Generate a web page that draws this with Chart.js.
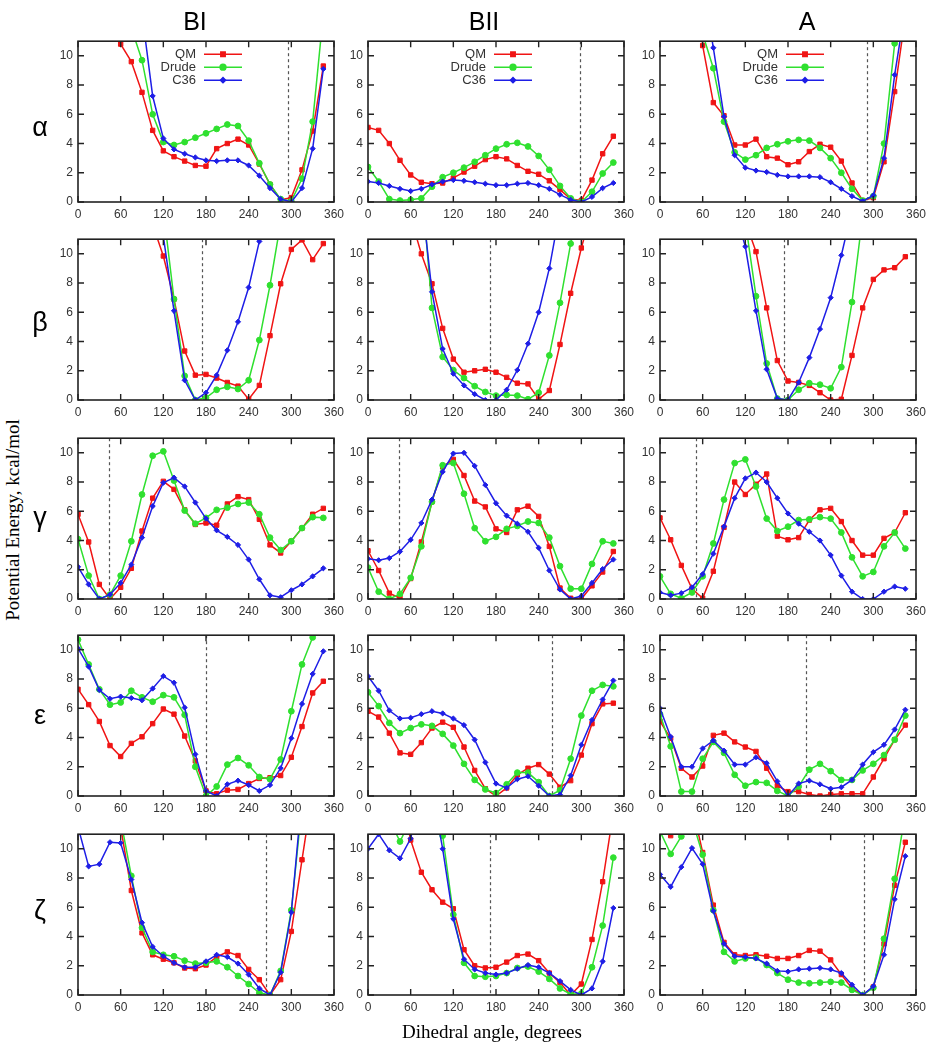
<!DOCTYPE html>
<html>
<head>
<meta charset="utf-8">
<script src="https://cdn.jsdelivr.net/npm/chart.js@4.4.1/dist/chart.umd.min.js"></script>
<style>
  body { margin: 0; background: #fff; width: 926px; height: 1050px; position: relative; overflow: hidden; }
  canvas { position: absolute; }
  .txt { position: absolute; color: #000; white-space: nowrap; }
  .col { font: 25px "Liberation Sans", Arial, sans-serif; top: 7px; transform: translateX(-50%); }
  .row { font: 27px "Liberation Sans", Arial, sans-serif; transform: translate(-50%, -50%); }
  .axis { font: 19px "Liberation Serif", "Times New Roman", serif; }
</style>
</head>
<body>
<script>
// angles sampled every 15 degrees
const angles = [0, 15, 30, 45, 60, 75, 90, 105, 120, 135, 150, 165, 180, 195, 210, 225, 240, 255, 270, 285, 300, 315, 330, 345];
const xTicks = [0, 60, 120, 180, 240, 300, 360];
const yTicks = [0, 2, 4, 6, 8, 10];
const seriesNames = ['QM', 'Drude', 'C36'];
const conformations = ['BI', 'BII', 'A'];
const dihedrals = ['α', 'β', 'γ', 'ε', 'ζ'];

// alpha
const qmAlphaBI    = [20, 19, 17, 13.5, 10.8, 9.6, 7.5, 4.9, 3.5, 3.1, 2.8, 2.5, 2.45, 3.65, 4.0, 4.3, 3.9, 2.6, 1.2, 0.15, 0.3, 2.2, 4.85, 9.3];
const drudeAlphaBI = [20, 19, 17, 15, 14, 11.9, 9.7, 6.0, 4.1, 3.9, 4.1, 4.4, 4.7, 5.0, 5.3, 5.2, 4.2, 2.65, 1.2, 0.2, 0.05, 1.6, 5.5, 12.9];
const c36AlphaBI   = [20, 19, 18, 17, 15, 14, 12.9, 7.25, 4.35, 3.6, 3.3, 3.05, 2.85, 2.8, 2.85, 2.85, 2.5, 1.8, 0.95, 0.2, 0, 0.95, 3.65, 9.1];
const qmAlphaBII    = [5.1, 4.9, 4.0, 2.85, 1.85, 1.35, 1.25, 1.3, 1.65, 2.05, 2.45, 2.9, 3.1, 2.95, 2.5, 2.1, 1.9, 1.45, 0.85, 0.2, 0.1, 1.5, 3.3, 4.5];
const drudeAlphaBII = [2.4, 1.4, 0.2, 0.1, 0.15, 0.25, 1.05, 1.7, 2.0, 2.35, 2.75, 3.2, 3.65, 3.95, 4.05, 3.8, 3.15, 2.2, 1.1, 0.25, 0, 0.7, 1.95, 2.7];
const c36AlphaBII   = [1.4, 1.3, 1.1, 0.9, 0.75, 0.9, 1.2, 1.4, 1.5, 1.45, 1.35, 1.25, 1.15, 1.15, 1.25, 1.3, 1.15, 0.9, 0.5, 0.15, 0, 0.35, 0.95, 1.3];
const qmAlphaA    = [20, 19, 18, 22, 10.7, 6.8, 5.9, 3.9, 3.9, 4.3, 3.1, 3.0, 2.55, 2.75, 3.45, 3.95, 3.75, 2.8, 1.3, 0.1, 0.3, 2.75, 7.55, 12.7];
const drudeAlphaA = [20, 19, 18, 16, 11.5, 9.15, 5.5, 3.4, 2.9, 3.2, 3.7, 3.95, 4.15, 4.25, 4.2, 3.7, 3.0, 2.0, 0.9, 0.1, 0.4, 4.0, 10.85, 16];
const c36AlphaA   = [20, 19, 18, 17, 15, 10.55, 5.85, 3.2, 2.35, 2.15, 2.05, 1.85, 1.75, 1.75, 1.75, 1.7, 1.35, 0.9, 0.4, 0.05, 0.45, 3.0, 8.7, 13.3];

// beta
const qmBetaBI    = [null, null, null, null, null, null, null, 12.0, 9.85, 6.9, 3.35, 1.7, 1.75, 1.5, 1.2, 0.95, 0.05, 1.0, 4.4, 7.95, 10.3, 10.95, 9.6, 10.7];
const drudeBetaBI = [null, null, null, null, null, null, null, null, 13.0, 6.9, 1.65, 0, 0.15, 0.7, 0.9, 0.75, 1.35, 4.1, 7.85, 12.15, null, null, null, null];
const c36BetaBI   = [null, null, null, null, null, null, null, null, 11.2, 6.1, 1.35, 0, 0.5, 1.7, 3.4, 5.35, 7.7, 10.85, 14, null, null, null, null, null];
const qmBetaBII    = [null, null, null, null, 12.5, 10.0, 7.95, 4.9, 2.8, 1.9, 2.0, 2.1, 1.9, 1.55, 1.15, 1.1, 0.05, 0.65, 3.8, 7.3, 10.4, 13, null, null];
const drudeBetaBII = [null, null, null, null, 17, 15, 6.3, 2.95, 2.05, 1.5, 0.95, 0.55, 0.3, 0.35, 0.3, 0.05, 0.5, 3.05, 6.65, 10.7, 14, null, null, null];
const c36BetaBII   = [null, null, null, null, 18, 14, 7.4, 3.5, 1.8, 1.0, 0.4, 0, 0, 0.7, 2.05, 3.85, 6.0, 9.0, 13, null, null, null, null, null];
const qmBetaA    = [null, null, null, null, null, null, null, 16, 12.2, 10.15, 6.3, 2.7, 1.3, 1.2, 1.0, 0.5, 0, 0.05, 3.05, 6.3, 8.25, 8.9, 9.05, 9.8];
const drudeBetaA = [null, null, null, null, null, null, null, 18, 12.2, 7.1, 2.5, 0.1, 0, 0.7, 1.15, 1.05, 0.8, 2.25, 6.7, 12.6, null, null, null, null];
const c36BetaA   = [null, null, null, null, null, null, null, 13, 10.5, 6.1, 2.1, 0.1, 0, 1.2, 2.9, 4.85, 7.0, 9.9, 13, null, null, null, null, null];

// gamma
const qmGammaBI    = [5.8, 3.9, 1.0, 0, 0.8, 2.1, 4.65, 6.9, 8.05, 7.5, 6.1, 5.1, 5.2, 5.05, 6.5, 7.0, 6.8, 5.45, 3.7, 3.15, 3.95, 4.85, 5.8, 6.2];
const drudeGammaBI = [4.1, 1.6, 0, 0.3, 1.6, 3.95, 7.15, 9.8, 10.1, 8.1, 6.05, 5.15, 5.55, 6.1, 6.25, 6.5, 6.6, 5.8, 4.2, 3.35, 3.95, 4.85, 5.6, 5.55];
const c36GammaBI   = [2.2, 1.0, 0, 0.3, 1.1, 2.35, 4.2, 6.35, 7.95, 8.3, 7.7, 6.6, 5.5, 4.7, 4.25, 3.7, 2.7, 1.35, 0.25, 0.12, 0.6, 1.0, 1.55, 2.1];
const qmGammaBII    = [3.3, 1.95, 0.4, 0.05, 1.4, 3.9, 6.65, 9.05, 9.55, 8.45, 6.7, 6.3, 4.8, 4.55, 6.1, 6.35, 5.65, 3.6, 0.75, 0.05, 0, 0.9, 1.85, 3.25];
const drudeGammaBII = [2.15, 0.5, 0, 0.35, 1.45, 3.6, 6.65, 9.15, 9.3, 7.2, 4.85, 3.95, 4.25, 4.8, 5.0, 5.3, 5.2, 4.2, 2.25, 0.7, 0.7, 2.4, 3.95, 3.8];
const c36GammaBII   = [2.75, 2.65, 2.8, 3.25, 4.05, 5.2, 6.8, 8.7, 9.95, 10.0, 9.1, 7.8, 6.55, 5.7, 5.15, 4.6, 3.5, 1.95, 0.65, 0, 0.2, 1.1, 2.05, 2.7];
const qmGammaA    = [5.55, 4.05, 2.3, 0.7, 0.05, 1.9, 4.9, 8.0, 7.15, 7.85, 8.55, 4.3, 4.05, 4.2, 5.4, 6.1, 6.2, 5.3, 4.0, 3.0, 3.0, 4.15, 4.55, 5.9];
const drudeGammaA = [1.55, 0.35, 0.05, 0.45, 1.55, 3.8, 6.8, 9.3, 9.55, 7.7, 5.5, 4.65, 4.95, 5.4, 5.45, 5.6, 5.5, 4.55, 2.85, 1.55, 1.85, 3.6, 4.55, 3.45];
const c36GammaA   = [0.45, 0.25, 0.4, 0.8, 1.7, 3.1, 4.95, 6.9, 8.25, 8.65, 8.0, 6.9, 5.85, 5.15, 4.6, 4.0, 3.0, 1.6, 0.5, 0, 0, 0.5, 0.85, 0.7];

// epsilon
const qmEpsBI    = [7.3, 6.25, 5.1, 3.45, 2.7, 3.6, 4.05, 4.95, 5.95, 5.6, 4.1, 2.4, 0.35, 0.15, 0.4, 0.45, 0.85, 1.2, 1.25, 1.4, 2.65, 4.75, 7.05, 7.85];
const drudeEpsBI = [10.7, 9.0, 7.3, 6.25, 6.4, 7.2, 6.75, 6.45, 6.9, 6.75, 5.55, 2.0, 0, 0.65, 2.15, 2.6, 2.1, 1.3, 1.15, 2.5, 5.8, 9.0, 10.85, 14];
const c36EpsBI   = [10.1, 8.85, 7.25, 6.65, 6.8, 6.7, 6.55, 7.35, 8.2, 7.75, 6.05, 2.85, 0.35, 0, 0.8, 1.05, 0.75, 0.35, 0.75, 1.9, 3.95, 6.3, 8.35, 9.9];
const qmEpsBII    = [5.8, 5.4, 4.3, 2.95, 2.85, 3.65, 4.65, 5.05, 4.7, 3.35, 1.75, 0.5, 0, 0.55, 1.45, 1.9, 2.15, 1.5, 0.6, 1.05, 2.8, 4.95, 6.3, 6.35];
const drudeEpsBII = [7.1, 6.15, 5.0, 4.3, 4.65, 4.9, 4.8, 4.25, 3.45, 2.2, 1.1, 0.45, 0.2, 0.8, 1.6, 1.6, 0.95, 0, 0.4, 2.55, 5.5, 7.2, 7.6, 7.5];
const c36EpsBII   = [8.2, 7.2, 5.85, 5.3, 5.35, 5.6, 5.8, 5.65, 5.3, 4.85, 3.85, 2.3, 0.85, 0.55, 1.15, 1.35, 0.7, 0, 0.1, 1.4, 3.5, 5.2, 6.6, 7.9];
const qmEpsA    = [5.1, 3.95, 1.9, 1.3, 2.05, 4.15, 4.3, 3.7, 3.35, 3.05, 1.9, 0.7, 0.3, 0.3, 0.1, 0, 0.1, 0.15, 0.15, 0.15, 1.3, 2.55, 3.85, 4.85];
const drudeEpsA = [5.6, 3.4, 0.3, 0.3, 2.55, 3.7, 2.95, 1.45, 0.7, 0.95, 0.9, 0.35, 0, 0.65, 1.8, 2.2, 1.7, 1.1, 1.1, 1.75, 2.2, 2.8, 3.85, 5.5];
const c36EpsA   = [6.0, 4.05, 2.0, 2.0, 3.25, 3.8, 3.1, 2.15, 2.15, 2.65, 2.25, 1.0, 0, 0.85, 1.05, 0.8, 0.5, 0.6, 1.1, 2.15, 3.0, 3.5, 4.55, 5.9];

// zeta
const qmZetaBI    = [null, null, null, 16, 11.5, 7.15, 4.25, 2.75, 2.45, 2.2, 1.85, 1.8, 2.05, 2.6, 2.95, 2.7, 1.75, 1.05, 0, 1.05, 4.35, 9.25, 14, null];
const drudeZetaBI = [null, null, null, 16, 12, 8.15, 4.6, 2.95, 2.75, 2.65, 2.35, 2.15, 2.2, 2.3, 1.9, 1.3, 0.75, 0.15, 0, 1.65, 5.8, 13, null, null];
const c36ZetaBI   = [11.5, 8.8, 8.95, 10.45, 10.4, 7.9, 4.95, 3.3, 2.65, 2.2, 1.9, 1.9, 2.3, 2.75, 2.6, 2.15, 1.4, 0.45, 0, 1.55, 5.65, 13.7, null, null];
const qmZetaBII    = [null, null, null, 14, 10.6, 8.4, 7.2, 6.35, 5.9, 3.1, 2.0, 1.85, 1.9, 2.25, 2.7, 2.8, 2.35, 1.5, 0.85, 0, 0.75, 3.8, 7.75, 12.5];
const drudeZetaBII = [null, 13, 12, 10.5, 12, 14, 14, 10.9, 5.5, 2.2, 1.3, 1.25, 1.3, 1.5, 1.85, 1.95, 1.6, 1.1, 0.45, 0.05, 0.1, 1.9, 4.75, 9.4];
const c36ZetaBII   = [10.0, 11.0, 9.9, 9.35, 10.7, 14, 14, 10.0, 5.2, 2.45, 1.75, 1.5, 1.4, 1.5, 1.8, 2.05, 1.9, 1.5, 0.95, 0.35, 0, 0.45, 2.3, 5.95];
const qmZetaA    = [11.5, 10.9, 12, 13, 9.75, 6.15, 3.6, 2.75, 2.7, 2.75, 2.65, 2.5, 2.5, 2.7, 3.05, 3.0, 2.4, 1.4, 0.45, 0, 0.55, 3.5, 7.5, 10.45];
const drudeZetaA = [11.2, 9.65, 10.85, 12, 9.6, 5.8, 2.95, 2.3, 2.5, 2.55, 2.05, 1.5, 1.05, 0.85, 0.8, 0.85, 0.9, 0.85, 0.35, 0, 0.5, 3.85, 7.95, 12.5];
const c36ZetaA   = [8.25, 7.4, 8.75, 10.05, 8.95, 5.75, 3.5, 2.65, 2.6, 2.5, 2.15, 1.65, 1.6, 1.75, 1.8, 1.85, 1.75, 1.5, 0.7, 0, 0.6, 2.75, 6.55, 9.5];

// reference (dashed) dihedral of each panel, rows = dihedrals, cols = conformations
const refAngles = [
  [296, 298, 291],
  [175, 172, 174],
  [44, 44, 50],
  [180, 259, 205],
  [265, 171, 287]
];

const panelData = [
  [[qmAlphaBI, drudeAlphaBI, c36AlphaBI], [qmAlphaBII, drudeAlphaBII, c36AlphaBII], [qmAlphaA, drudeAlphaA, c36AlphaA]],
  [[qmBetaBI, drudeBetaBI, c36BetaBI], [qmBetaBII, drudeBetaBII, c36BetaBII], [qmBetaA, drudeBetaA, c36BetaA]],
  [[qmGammaBI, drudeGammaBI, c36GammaBI], [qmGammaBII, drudeGammaBII, c36GammaBII], [qmGammaA, drudeGammaA, c36GammaA]],
  [[qmEpsBI, drudeEpsBI, c36EpsBI], [qmEpsBII, drudeEpsBII, c36EpsBII], [qmEpsA, drudeEpsA, c36EpsA]],
  [[qmZetaBI, drudeZetaBI, c36ZetaBI], [qmZetaBII, drudeZetaBII, c36ZetaBII], [qmZetaA, drudeZetaA, c36ZetaA]]
];

// layout
const plotLeft = [78, 368, 660];
const plotBottom = [202, 400, 599, 796, 995];
const plotW = 256, plotH = 163;
const padL = 40, padR = 16, padT = 10, padB = 24;
const colCenters = [195, 484, 807];
const rowCenters = [127, 322, 517, 715, 910];

const styles = [
  { color: '#f01414', pointStyle: 'rect', radius: 3.1, order: 3 },
  { color: '#2fe02f', pointStyle: 'circle', radius: 2.9, order: 2 },
  { color: '#1e1ee6', pointStyle: 'rectRot', radius: 2.6, order: 1 }
];

Chart.defaults.font.family = '"Liberation Sans", Arial, sans-serif';
Chart.defaults.font.size = 12;
Chart.defaults.color = '#333';

const refLinePlugin = {
  id: 'refLine',
  beforeDatasetsDraw(chart, args, opts) {
    const { ctx, chartArea: a, scales: { x } } = chart;
    const px = Math.round(x.getPixelForValue(opts.angle)) + 0.5;
    ctx.save();
    ctx.strokeStyle = '#555';
    ctx.lineWidth = 1.2;
    ctx.setLineDash([3, 3]);
    ctx.beginPath();
    ctx.moveTo(px, a.top);
    ctx.lineTo(px, a.bottom);
    ctx.stroke();
    ctx.restore();
  }
};

const framePlugin = {
  id: 'frame',
  afterDraw(chart) {
    const { ctx, chartArea: a, scales: { x, y } } = chart;
    ctx.save();
    ctx.strokeStyle = '#222';
    ctx.lineWidth = 1.6;
    ctx.strokeRect(a.left, a.top, a.right - a.left, a.bottom - a.top);
    ctx.lineWidth = 1.4;
    ctx.beginPath();
    xTicks.forEach(v => {
      const px = x.getPixelForValue(v);
      ctx.moveTo(px, a.bottom); ctx.lineTo(px, a.bottom - 6);
      ctx.moveTo(px, a.top); ctx.lineTo(px, a.top + 6);
    });
    yTicks.forEach(v => {
      const py = y.getPixelForValue(v);
      ctx.moveTo(a.left, py); ctx.lineTo(a.left + 6, py);
      ctx.moveTo(a.right, py); ctx.lineTo(a.right - 6, py);
    });
    ctx.stroke();
    ctx.restore();
  }
};

const miniLegendPlugin = {
  id: 'miniLegend',
  afterDraw(chart, args, opts) {
    if (!opts.show) return;
    const { ctx, chartArea: a } = chart;
    ctx.save();
    ctx.font = '13px "Liberation Sans", Arial, sans-serif';
    ctx.textAlign = 'right';
    ctx.textBaseline = 'middle';
    chart.data.datasets.forEach((d, i) => {
      const yy = a.top + 13 + 13 * i;
      ctx.fillStyle = '#333';
      ctx.fillText(d.label, a.left + 118, yy);
      ctx.strokeStyle = d.borderColor;
      ctx.fillStyle = d.borderColor;
      ctx.lineWidth = 1.5;
      ctx.beginPath();
      ctx.moveTo(a.left + 126, yy);
      ctx.lineTo(a.left + 164, yy);
      ctx.stroke();
      Chart.helpers.drawPoint(ctx, { pointStyle: d.pointStyle, radius: d.pointRadius, rotation: 0, borderWidth: 1 }, a.left + 145, yy);
    });
    ctx.restore();
  }
};

function makePanel(r, c) {
  const cv = document.createElement('canvas');
  cv.width = plotW + padL + padR;
  cv.height = plotH + padT + padB;
  document.body.appendChild(cv);

  const datasets = panelData[r][c].map((vals, i) => ({
    label: seriesNames[i],
    data: angles.map((a, k) => ({ x: a, y: vals[k] })),
    borderColor: styles[i].color,
    backgroundColor: styles[i].color,
    pointBackgroundColor: styles[i].color,
    pointBorderColor: styles[i].color,
    pointStyle: styles[i].pointStyle,
    pointRadius: styles[i].radius,
    pointBorderWidth: 1,
    borderWidth: 1.5,
    tension: 0,
    order: styles[i].order
  }));

  const chart = new Chart(cv, {
    type: 'line',
    data: { datasets },
    options: {
      responsive: false,
      animation: false,
      events: [],
      layout: { padding: { top: padT, right: padR, left: 0, bottom: 0 } },
      plugins: {
        legend: { display: false },
        tooltip: { enabled: false },
        refLine: { angle: refAngles[r][c] },
        miniLegend: { show: r === 0 }
      },
      scales: {
        x: {
          type: 'linear', min: 0, max: 360,
          afterFit: s => { s.height = padB; },
          afterBuildTicks: s => { s.ticks = xTicks.map(v => ({ value: v })); },
          grid: { display: false, drawTicks: false },
          border: { display: false },
          ticks: { padding: 5, maxRotation: 0, autoSkip: false }
        },
        y: {
          type: 'linear', min: 0, max: 11,
          afterFit: s => { s.width = padL; },
          afterBuildTicks: s => { s.ticks = yTicks.map(v => ({ value: v })); },
          grid: { display: false, drawTicks: false },
          border: { display: false },
          ticks: { padding: 5 }
        }
      }
    },
    plugins: [refLinePlugin, framePlugin, miniLegendPlugin]
  });

  const a = chart.chartArea;
  cv.style.left = (plotLeft[c] - a.left) + 'px';
  cv.style.top = (plotBottom[r] - a.bottom) + 'px';
}

for (let r = 0; r < dihedrals.length; r++) {
  for (let c = 0; c < conformations.length; c++) makePanel(r, c);
}

function addText(text, cls, css) {
  const d = document.createElement('div');
  d.className = 'txt ' + cls;
  d.textContent = text;
  Object.assign(d.style, css);
  document.body.appendChild(d);
  return d;
}

conformations.forEach((t, c) => addText(t, 'col', { left: colCenters[c] + 'px' }));
dihedrals.forEach((t, r) => addText(t, 'row', { left: '40px', top: rowCenters[r] + 'px' }));
addText('Potential Energy, kcal/mol', 'axis', { left: '13px', top: '520px', transform: 'translate(-50%, -50%) rotate(-90deg)' });
addText('Dihedral angle, degrees', 'axis', { left: '492px', top: '1032px', transform: 'translate(-50%, -50%)' });
</script>
</body>
</html>
